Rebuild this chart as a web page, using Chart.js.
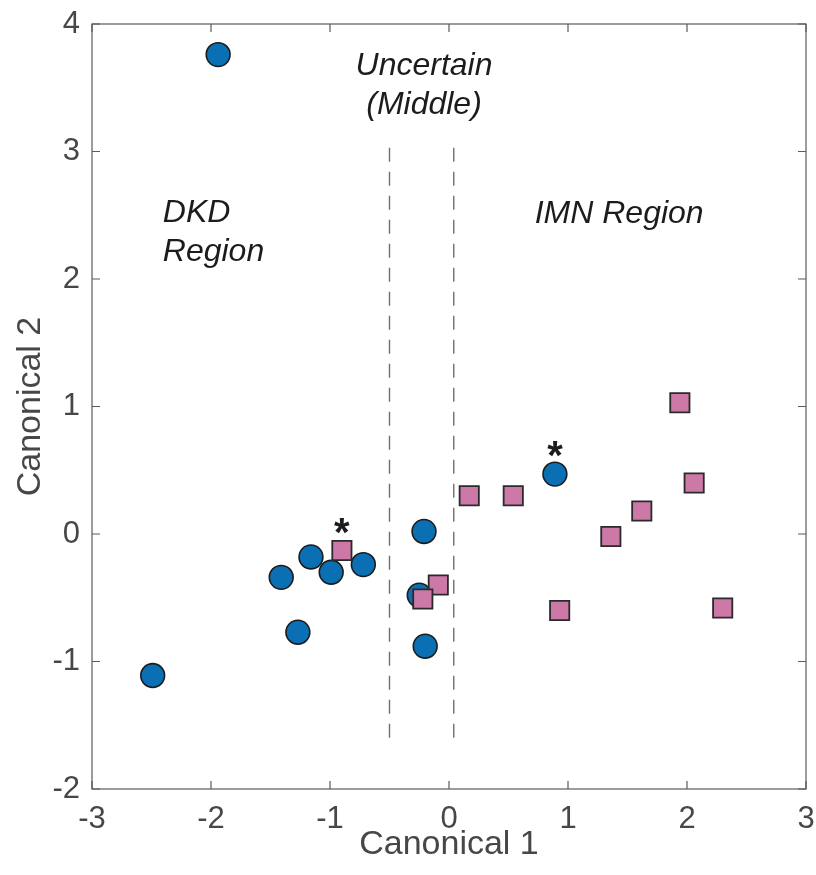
<!DOCTYPE html>
<html>
<head>
<meta charset="utf-8">
<script src="https://cdn.jsdelivr.net/npm/chart.js@4/dist/chart.umd.min.js"></script>
<style>
  html, body { margin: 0; padding: 0; background: #ffffff; overflow: hidden; }
  #wrap { width: 816px; height: 875px; }
  #c { display: block; }
</style>
</head>
<body>
<div id="wrap"><canvas id="c" width="816" height="875"></canvas></div>
<script>
// Canonical scores, DKD group (circles)
const dkdX = [-1.94, -2.49, -1.41, -1.16, -0.99, -0.72, -1.27, -0.21, -0.25, -0.20, 0.89];
const dkdY = [3.76, -1.11, -0.34, -0.18, -0.30, -0.24, -0.77, 0.02, -0.48, -0.88, 0.47];

// Canonical scores, IMN group (squares)
const imnX = [-0.90, -0.09, -0.22, 0.17, 0.54, 1.94, 2.06, 1.62, 1.36, 0.93, 2.30];
const imnY = [-0.13, -0.40, -0.51, 0.30, 0.30, 1.03, 0.40, 0.18, -0.02, -0.60, -0.58];

// Points flagged with an asterisk (indices into the arrays above)
const starredDkd = [10];
const starredImn = [0];

// Region boundaries (vertical dashed lines)
const boundaryX = [-0.50, 0.04];
const boundaryTop = 3.03;
const boundaryBottom = -1.60;

// Axis ranges and tick values
const xTicks = [-3, -2, -1, 0, 1, 2, 3];
const yTicks = [-2, -1, 0, 1, 2, 3, 4];

// Region captions: lines, anchor in data units, alignment
const captions = [
  { lines: ['Uncertain', '(Middle)'], x: -0.21, y: 3.60, align: 'center' },
  { lines: ['DKD', 'Region'], x: -2.405, y: 2.45, align: 'left' },
  { lines: ['IMN Region'], x: 0.72, y: 2.44, align: 'left' }
];

const FONT = '"Liberation Sans", Arial, Helvetica, sans-serif';
const AXIS_COLOR = '#474747';

const toPoints = (xs, ys) => xs.map((x, i) => ({ x: x, y: ys[i] }));

// Box around the plot area with inward tick marks on all four sides
const framePlugin = {
  id: 'frame',
  afterDatasetsDraw(chart) {
    const { ctx, chartArea: a, scales: { x, y } } = chart;
    const len = 8;
    ctx.save();
    ctx.strokeStyle = '#5a5a5a';
    ctx.lineWidth = 1.2;
    ctx.strokeRect(a.left, a.top, a.right - a.left, a.bottom - a.top);
    ctx.beginPath();
    xTicks.forEach(v => {
      const px = x.getPixelForValue(v);
      ctx.moveTo(px, a.bottom); ctx.lineTo(px, a.bottom - len);
      ctx.moveTo(px, a.top); ctx.lineTo(px, a.top + len);
    });
    yTicks.forEach(v => {
      const py = y.getPixelForValue(v);
      ctx.moveTo(a.left, py); ctx.lineTo(a.left + len, py);
      ctx.moveTo(a.right, py); ctx.lineTo(a.right - len, py);
    });
    ctx.stroke();
    ctx.restore();
  }
};

// Region captions and asterisk flags
const notesPlugin = {
  id: 'notes',
  afterDatasetsDraw(chart) {
    const { ctx, scales: { x, y } } = chart;
    ctx.save();
    ctx.fillStyle = '#1c1c1c';
    ctx.font = 'italic 32px ' + FONT;
    ctx.textBaseline = 'alphabetic';
    captions.forEach(c => {
      ctx.textAlign = c.align;
      const px = x.getPixelForValue(c.x);
      const py = y.getPixelForValue(c.y);
      c.lines.forEach((line, i) => ctx.fillText(line, px, py + i * 39));
    });

    ctx.font = 'bold 40px ' + FONT;
    ctx.textAlign = 'center';
    const m = ctx.measureText('*');
    const half = (m.actualBoundingBoxAscent - m.actualBoundingBoxDescent) / 2;
    const star = (vx, vy) => {
      const px = x.getPixelForValue(vx);
      const py = y.getPixelForValue(vy) - 25;
      ctx.fillText('*', px, py + half);
    };
    starredDkd.forEach(i => star(dkdX[i], dkdY[i]));
    starredImn.forEach(i => star(imnX[i], imnY[i]));
    ctx.restore();
  }
};

const boundaryDataset = (bx) => ({
  type: 'line',
  data: [{ x: bx, y: boundaryTop }, { x: bx, y: boundaryBottom }],
  borderColor: '#707070',
  borderWidth: 1.4,
  borderDash: [14, 10],
  pointRadius: 0,
  fill: false,
  order: 2
});

// Fixed scale sizes so the plot area sits at a set place in the canvas
const fixScale = (size, horizontal) => (s) => {
  if (horizontal) s.height = size; else s.width = size;
  s.paddingLeft = 0; s.paddingRight = 0; s.paddingTop = 0; s.paddingBottom = 0;
};

new Chart(document.getElementById('c'), {
  type: 'scatter',
  data: {
    datasets: [
      {
        label: 'IMN',
        data: toPoints(imnX, imnY),
        pointStyle: 'rect',
        pointRadius: 13.6,
        pointBackgroundColor: '#cc79a7',
        pointBorderColor: '#2a2a2a',
        pointBorderWidth: 1.8,
        order: 0
      },
      {
        label: 'DKD',
        data: toPoints(dkdX, dkdY),
        pointStyle: 'circle',
        pointRadius: 11.9,
        pointBackgroundColor: '#0a6fb3',
        pointBorderColor: '#1c1c1c',
        pointBorderWidth: 1.6,
        order: 1
      },
      boundaryDataset(boundaryX[0]),
      boundaryDataset(boundaryX[1])
    ]
  },
  options: {
    responsive: false,
    animation: false,
    layout: { autoPadding: false, padding: { top: 24, right: 10, left: 0, bottom: 0 } },
    plugins: { legend: { display: false }, tooltip: { enabled: false } },
    scales: {
      x: {
        type: 'linear',
        min: xTicks[0],
        max: xTicks[xTicks.length - 1],
        afterBuildTicks(s) { s.ticks = xTicks.map(v => ({ value: v })); },
        ticks: { color: AXIS_COLOR, font: { family: FONT, size: 31 }, padding: 12, maxRotation: 0 },
        grid: { display: false, drawTicks: false },
        border: { display: false },
        title: { display: true, text: 'Canonical 1', color: AXIS_COLOR, font: { family: FONT, size: 34 }, padding: { top: 0, bottom: 10 } },
        afterFit: fixScale(86, true)
      },
      y: {
        type: 'linear',
        min: yTicks[0],
        max: yTicks[yTicks.length - 1],
        afterBuildTicks(s) { s.ticks = yTicks.map(v => ({ value: v })); },
        ticks: { color: AXIS_COLOR, font: { family: FONT, size: 31 }, padding: 12 },
        grid: { display: false, drawTicks: false },
        border: { display: false },
        title: { display: true, text: 'Canonical 2', color: AXIS_COLOR, font: { family: FONT, size: 34 }, padding: { top: 10, bottom: 0 } },
        afterFit: fixScale(92, false)
      }
    }
  },
  plugins: [framePlugin, notesPlugin]
});
</script>
</body>
</html>
